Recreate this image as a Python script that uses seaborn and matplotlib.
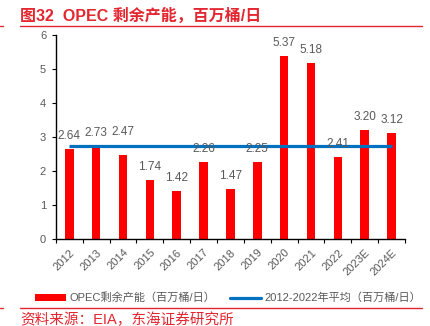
import numpy as np
import matplotlib
matplotlib.use("Agg")
import matplotlib.pyplot as plt
import seaborn as sns
from matplotlib.lines import Line2D
from matplotlib.patches import Patch

years = ["2012", "2013", "2014", "2015", "2016", "2017", "2018", "2019",
         "2020", "2021", "2022", "2023E", "2024E"]
spare_capacity = [2.64, 2.73, 2.47, 1.74, 1.42, 2.26, 1.47, 2.25,
                  5.37, 5.18, 2.41, 3.20, 3.12]
avg_2012_2022 = 2.72
# vertical offset (points) of each value label's centre above its bar
label_offsets = [9.4, 9.4, 16.5, 9.4, 9.4, 9.4, 9.4, 9.4, 9.4, 9.4, 9.4, 9.4, 9.4]

title = "图32  OPEC 剩余产能，百万桶/日"
source = "资料来源：EIA，东海证券研究所"
bar_label = "OPEC剩余产能（百万桶/日）"
line_label = "2012-2022年平均（百万桶/日）"

sns.set_theme(style="white")
plt.rcParams["font.family"] = ["Liberation Sans", "Noto Sans CJK SC", "DejaVu Sans"]

GRAY = "#595959"
RED_TXT = "#E3262F"
BAR = "#FF0000"
BLUE = "#0070C0"

fig = plt.figure(figsize=(4.3, 3.26), dpi=100)
ax = fig.add_axes([0.130, 0.267, 0.812, 0.626])

sns.barplot(x=years, y=spare_capacity, color=BAR, width=0.32, saturation=1,
            linewidth=0, ax=ax, zorder=2)
ax.plot(years, [avg_2012_2022] * len(years), color=BLUE, lw=2.3, zorder=3,
        solid_capstyle="butt")

for i, (v, off) in enumerate(zip(spare_capacity, label_offsets)):
    ax.annotate(f"{v:.2f}", (i, v), xytext=(0, off), textcoords="offset points",
                ha="center", va="center", fontsize=8.5, color=GRAY, zorder=4)

ax.set_xlim(-0.5, len(years) - 0.5)
ax.set_ylim(0, 6)
ax.set_yticks(range(0, 7))

for s in ["top", "right"]:
    ax.spines[s].set_visible(False)
for s in ["left", "bottom"]:
    ax.spines[s].set_color("black")
    ax.spines[s].set_linewidth(1.0)

ax.tick_params(axis="y", left=True, length=3, width=0.8, color="black",
               labelsize=8, labelcolor=GRAY, pad=4)
ax.set_xticks(np.arange(len(years)))
ax.set_xticklabels(years, rotation=45, ha="right", rotation_mode="anchor",
                   fontsize=8, color=GRAY)
ax.tick_params(axis="x", which="major", bottom=False, length=0, pad=6)
ax.set_xticks(np.arange(-0.5, len(years)), minor=True)
ax.tick_params(axis="x", which="minor", bottom=True, length=3, width=0.8,
               color="black")
ax.set_xlabel("")
ax.set_ylabel("")

handles = [Patch(facecolor=BAR, edgecolor="none"),
           Line2D([], [], color=BLUE, lw=2.3)]
fig.legend(handles, [bar_label, line_label], loc="center",
           bbox_to_anchor=(0.53, 0.086), ncol=2, frameon=False, fontsize=8,
           labelcolor=GRAY, handlelength=2.8, handleheight=0.55,
           columnspacing=1.3, handletextpad=0.3)

# header / footer rules
fig.text(0.047, 0.951, title, fontsize=11.5, fontweight="bold", color=RED_TXT,
         ha="left", va="center")
fig.add_artist(Line2D([0.047, 0.981], [0.920, 0.920], color=RED_TXT, lw=1.0))
fig.add_artist(Line2D([0.047, 0.981], [0.055, 0.055], color=RED_TXT, lw=1.0))
fig.add_artist(Line2D([0.0, 0.006], [0.920, 0.920], color=RED_TXT, lw=1.0))
fig.add_artist(Line2D([0.0, 0.006], [0.055, 0.055], color=RED_TXT, lw=1.0))
fig.text(0.047, 0.018, source, fontsize=10.5, color=RED_TXT, ha="left",
         va="center")

fig.savefig("out.png", dpi=100)
